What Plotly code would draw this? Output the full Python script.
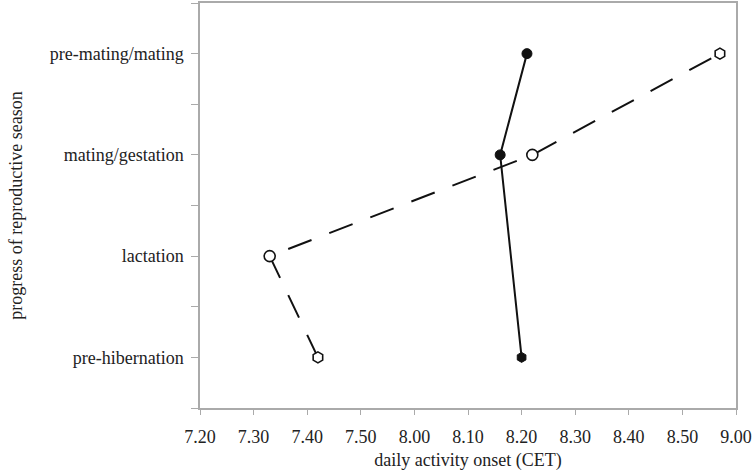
import plotly.graph_objects as go

# categories, bottom to top
stages = ["pre-hibernation", "lactation", "mating/gestation", "pre-mating/mating"]
# daily activity onset, clock time as h.mm (CET)
onset_filled = [8.20, None, 8.16, 8.21]
onset_open = [7.42, 7.33, 8.22, 8.57]
symbols_filled = ["hexagon", "circle", "circle", "circle"]
symbols_open = ["hexagon", "circle", "circle", "hexagon"]
x_tick_labels = ["7.20", "7.30", "7.40", "7.50", "8.00", "8.10", "8.20",
                 "8.30", "8.40", "8.50", "9.00"]

START = 7 * 60 + 20


def to_min(v):
    if v is None:
        return None
    h = int(v)
    m = round((v - h) * 100)
    return h * 60 + m - START


def lab_to_min(s):
    h, m = s.split(".")
    return int(h) * 60 + int(m) - START


ypos = list(range(len(stages)))

fig = go.Figure()
fig.add_trace(go.Scatter(
    x=[to_min(v) for v in onset_open], y=ypos, mode="lines+markers",
    line=dict(color="#111111", width=2, dash="25px,19px"),
    marker=dict(symbol=symbols_open, size=11, color="white",
                line=dict(color="#111111", width=1.6)),
    showlegend=False))
fig.add_trace(go.Scatter(
    x=[to_min(v) for v in onset_filled], y=ypos, mode="lines+markers",
    connectgaps=True,
    line=dict(color="#111111", width=2),
    marker=dict(symbol=symbols_filled, size=10, color="#111111",
                line=dict(color="#111111", width=1)),
    showlegend=False))

tickvals_y = []
ticktext_y = []
for i, s in enumerate(stages):
    tickvals_y += [i - 0.5, i]
    ticktext_y += ["", s]
tickvals_y.append(len(stages) - 0.5)
ticktext_y.append("")

font = dict(family="Liberation Serif", size=18, color="#222222")

fig.update_layout(
    width=753, height=471,
    margin=dict(l=200, r=17, t=1, b=63),
    paper_bgcolor="white", plot_bgcolor="white",
    font=font,
    xaxis=dict(
        range=[0, 100], tickvals=[lab_to_min(s) for s in x_tick_labels],
        ticktext=x_tick_labels, ticks="outside", ticklen=5, tickcolor="#aaaaaa",
        showline=True, linecolor="#aaaaaa", linewidth=1.5, mirror=True,
        showgrid=False, zeroline=False, ticklabelstandoff=7,
        title=dict(text="daily activity onset (CET)", standoff=9, font=font),
    ),
    yaxis=dict(
        range=[-0.5, len(stages) - 0.5], tickvals=tickvals_y, ticktext=ticktext_y,
        ticks="outside", ticklen=7, tickcolor="#aaaaaa",
        showline=True, linecolor="#aaaaaa", linewidth=1.5, mirror=True,
        showgrid=False, zeroline=False, ticklabelstandoff=4,
        title=dict(text="progress of reproductive season", standoff=22, font=font),
    ),
)

fig.write_html("out.html", config={"displayModeBar": False},
               post_script="document.body.style.margin='0';")
